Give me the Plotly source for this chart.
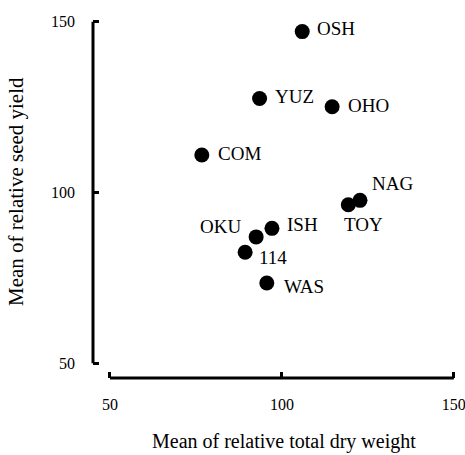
import plotly.graph_objects as go

# Data
cultivars = ["OSH", "YUZ", "OHO", "COM", "NAG", "TOY", "ISH", "OKU", "114", "WAS"]
dry_weight = [105.9, 93.5, 114.6, 76.7, 122.7, 119.3, 97.1, 92.5, 89.3, 95.6]
seed_yield = [147.1, 127.5, 125.1, 111.0, 97.7, 96.4, 89.5, 87.0, 82.5, 73.5]

# label placement (style): pixel offsets from each dot and anchor side
label_dx = [14, 14, 15, 15, 11, -5, 14, -14, 13, 16]
label_dy = [3, 2, 1, 1, 17, -20, 4, 10, -5, -3]
label_anchor = ["left", "left", "left", "left", "left", "left", "left", "right", "left", "left"]

tick_vals = [50, 100, 150]
tick_text = ["50", "100", "150"]

x_title = "Mean of relative total dry weight"
y_title = "Mean of relative seed yield"

serif = "Liberation Serif, Times New Roman, serif"

fig = go.Figure()
fig.add_trace(go.Scatter(
    x=dry_weight, y=seed_yield, mode="markers",
    marker=dict(size=15, color="black"),
    cliponaxis=False, showlegend=False, hoverinfo="skip",
))

for name, xv, yv, dx, dy, anc in zip(cultivars, dry_weight, seed_yield,
                                     label_dx, label_dy, label_anchor):
    fig.add_annotation(x=xv, y=yv, xref="x", yref="y", text=name, showarrow=False,
                       xanchor=anc, yanchor="middle", xshift=dx, yshift=dy,
                       borderpad=0,
                       font=dict(family=serif, size=19, color="black"))

# detached axis lines spanning 50..150
line_style = dict(color="black", width=3)
fig.add_shape(type="line", xref="x", yref="paper", x0=50, x1=150, y0=0, y1=0, line=line_style)
fig.add_shape(type="line", xref="paper", yref="y", x0=0, x1=0, y0=50, y1=150, line=line_style)

# axis titles
fig.add_annotation(text=x_title, xref="paper", yref="paper", x=0.522, y=-0.176,
                   xanchor="center", yanchor="middle", showarrow=False,
                   font=dict(family=serif, size=20, color="black"))
fig.add_annotation(text=y_title, xref="paper", yref="paper", x=-0.211, y=0.515,
                   xanchor="center", yanchor="middle", showarrow=False, textangle=-90,
                   font=dict(family=serif, size=21, color="black"))

fig.update_layout(
    width=465, height=455,
    margin=dict(l=93, r=7, t=15, b=77),
    plot_bgcolor="white", paper_bgcolor="white",
    font=dict(family=serif, color="black"),
)
fig.update_xaxes(
    range=[45.06, 151.2], showgrid=False, zeroline=False, showline=False,
    automargin=False, ticklabeloverflow="allow",
    tickmode="array", tickvals=tick_vals, ticktext=tick_text,
    ticks="inside", ticklen=6, tickwidth=3, tickcolor="black",
    tickfont=dict(family=serif, size=16), ticklabelstandoff=15,
)
fig.update_yaxes(
    range=[45.7, 151.96], showgrid=False, zeroline=False, showline=False,
    automargin=False, ticklabeloverflow="allow",
    tickmode="array", tickvals=tick_vals, ticktext=tick_text,
    ticks="inside", ticklen=6, tickwidth=3, tickcolor="black",
    tickfont=dict(family=serif, size=16), ticklabelstandoff=17,
)

fig.write_html("out.html", config={"displayModeBar": False},
               post_script="document.body.style.margin='0';document.body.style.padding='0';document.body.style.overflow='hidden';")
